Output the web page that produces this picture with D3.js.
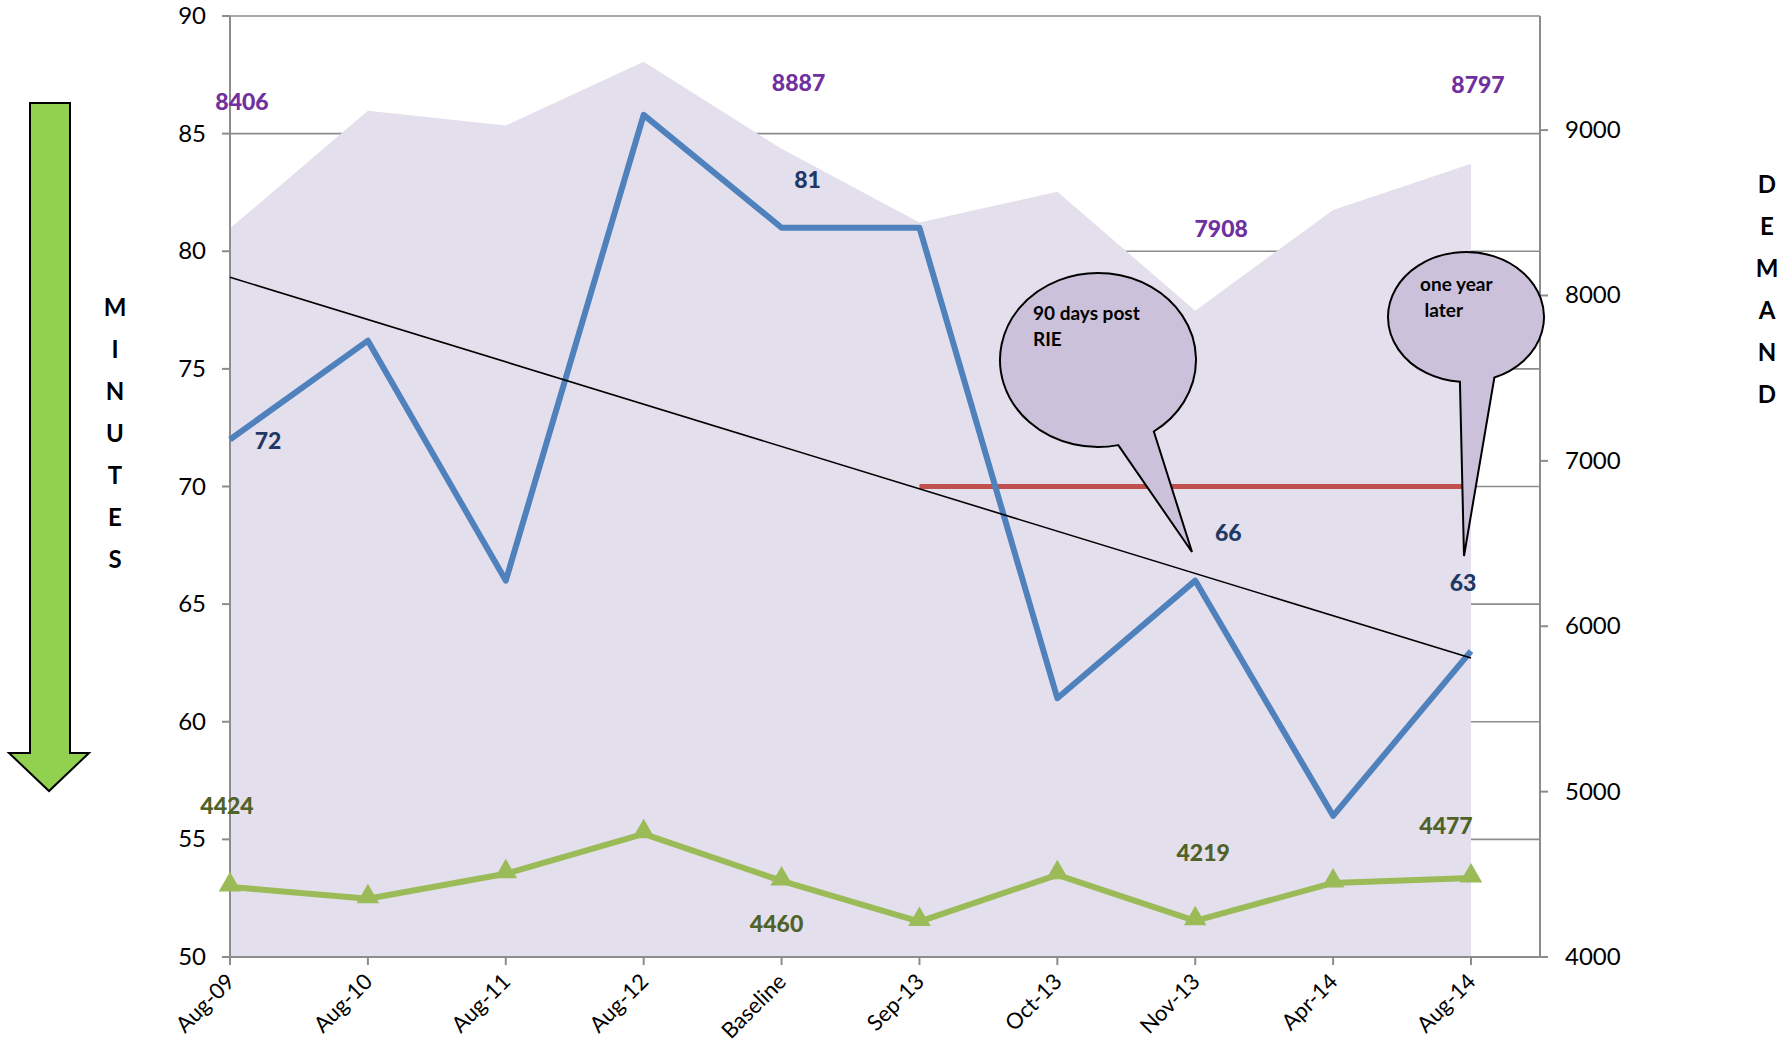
<!DOCTYPE html>
<html>
<head>
<meta charset="utf-8">
<script src="https://cdn.jsdelivr.net/npm/d3@7"></script>
<style>
  body { margin: 0; background: #fff; }
  text { font-family: Lato, "Open Sans", sans-serif; }
</style>
</head>
<body>
<svg id="chart" width="1789" height="1044"></svg>
<script>
// data
var categories = ["Aug-09", "Aug-10", "Aug-11", "Aug-12", "Baseline", "Sep-13", "Oct-13", "Nov-13", "Apr-14", "Aug-14"];
var minutes = [72, 76.2, 66, 85.8, 81, 81, 61, 66, 56, 63];
var demand = [8406, 9117, 9028, 9414, 8887, 8441, 8628, 7908, 8517, 8797];
var visits = [4424, 4352, 4503, 4745, 4460, 4214, 4497, 4219, 4448, 4477];
var target = 70, targetStart = "Sep-13";
var minuteTicks = [50, 55, 60, 65, 70, 75, 80, 85, 90];
var demandTicks = [4000, 5000, 6000, 7000, 8000, 9000];
var labelled = [0, 4, 7, 9];

var svg = d3.select("#chart");
var plotL = 230, plotR = 1540, lastX = 1471, plotT = 16, plotB = 957;

var x = d3.scalePoint().domain(categories).range([plotL, lastX]);
var yMin = d3.scaleLinear().domain([50, 90]).range([plotB, plotT]);
var yDem = d3.scaleLinear().domain([4000, 9690]).range([plotB, plotT]);

// gridlines
svg.append("g").selectAll("line")
    .data(minuteTicks.slice(1))
    .enter().append("line")
    .attr("x1", plotL).attr("x2", plotR)
    .attr("y1", d => yMin(d)).attr("y2", d => yMin(d))
    .attr("stroke", "#8c8c8c").attr("stroke-width", 1.6);

// demand area
var area = d3.area()
    .x((d, i) => x(categories[i]))
    .y0(plotB)
    .y1(d => yDem(d));
svg.append("path")
    .attr("d", area(demand))
    .attr("fill", "#e4dfec");

// axes
svg.append("line").attr("x1", plotL).attr("x2", plotL).attr("y1", plotT).attr("y2", plotB)
    .attr("stroke", "#8c8c8c").attr("stroke-width", 2);
svg.append("line").attr("x1", plotR).attr("x2", plotR).attr("y1", plotT).attr("y2", plotB)
    .attr("stroke", "#8c8c8c").attr("stroke-width", 2);
svg.append("line").attr("x1", plotL).attr("x2", plotR).attr("y1", plotB).attr("y2", plotB)
    .attr("stroke", "#8c8c8c").attr("stroke-width", 2);

var leftAxis = svg.append("g");
minuteTicks.forEach(function(t) {
    leftAxis.append("line").attr("x1", plotL - 8).attr("x2", plotL)
        .attr("y1", yMin(t)).attr("y2", yMin(t))
        .attr("stroke", "#8c8c8c").attr("stroke-width", 2);
    leftAxis.append("text").attr("x", plotL - 24).attr("y", yMin(t) + 8)
        .attr("text-anchor", "end").attr("font-size", 24).text(t);
});

var rightAxis = svg.append("g");
demandTicks.forEach(function(t) {
    rightAxis.append("line").attr("x1", plotR).attr("x2", plotR + 8)
        .attr("y1", yDem(t)).attr("y2", yDem(t))
        .attr("stroke", "#8c8c8c").attr("stroke-width", 2);
    rightAxis.append("text").attr("x", plotR + 25).attr("y", yDem(t) + 8)
        .attr("text-anchor", "start").attr("font-size", 24).text(t);
});

var xAxis = svg.append("g");
categories.forEach(function(c) {
    xAxis.append("line").attr("x1", x(c)).attr("x2", x(c))
        .attr("y1", plotB).attr("y2", plotB + 8)
        .attr("stroke", "#8c8c8c").attr("stroke-width", 2);
    xAxis.append("text")
        .attr("transform", "translate(" + (x(c) + 6) + "," + (plotB + 26) + ") rotate(-45)")
        .attr("text-anchor", "end").attr("font-size", 22).text(c);
});

// target line
svg.append("line")
    .attr("x1", x(targetStart)).attr("x2", lastX)
    .attr("y1", yMin(target)).attr("y2", yMin(target))
    .attr("stroke", "#c0504d").attr("stroke-width", 5);

// visits line with triangles
var line = d3.line().x((d, i) => x(categories[i]));
svg.append("path")
    .attr("d", line.y(d => yDem(d))(visits))
    .attr("fill", "none").attr("stroke", "#9bbb59").attr("stroke-width", 6)
    .attr("stroke-linejoin", "round");
svg.append("g").selectAll("path")
    .data(visits).enter().append("path")
    .attr("d", d3.symbol().type(d3.symbolTriangle).size(220))
    .attr("transform", (d, i) => "translate(" + x(categories[i]) + "," + (yDem(d) - 2) + ")")
    .attr("fill", "#9bbb59");

// minutes line
svg.append("path")
    .attr("d", line.y(d => yMin(d))(minutes))
    .attr("fill", "none").attr("stroke", "#4f81bd").attr("stroke-width", 6)
    .attr("stroke-linejoin", "round");

// linear trend of minutes
var n = minutes.length, mx = (n - 1) / 2, my = d3.mean(minutes);
var sxy = d3.sum(minutes, (d, i) => (i - mx) * (d - my));
var sxx = d3.sum(minutes, (d, i) => (i - mx) * (i - mx));
var slope = sxy / sxx, icpt = my - slope * mx;
svg.append("line")
    .attr("x1", x(categories[0])).attr("y1", yMin(icpt))
    .attr("x2", x(categories[n - 1])).attr("y2", yMin(icpt + slope * (n - 1)))
    .attr("stroke", "#000").attr("stroke-width", 1.6);

// data labels (offsets in px from the point)
var demandOff = [[12, -126], [0, 0], [0, 0], [0, 0], [17, -66], [0, 0], [0, 0], [26, -82], [0, 0], [7, -79]];
var minuteOff = [[38, 2], [0, 0], [0, 0], [0, 0], [26, -48], [0, 0], [0, 0], [33, -48], [0, 0], [-8, -68]];
var visitOff = [[-3, -81], [0, 0], [0, 0], [0, 0], [-5, 43], [0, 0], [0, 0], [8, -68], [0, 0], [-25, -52]];

function labels(values, scale, off, color) {
    svg.append("g").selectAll("text")
        .data(labelled).enter().append("text")
        .attr("x", i => x(categories[i]) + off[i][0])
        .attr("y", i => scale(values[i]) + off[i][1] + 8)
        .attr("text-anchor", "middle").attr("font-size", 23).attr("font-weight", 900)
        .attr("fill", color)
        .text(i => values[i]);
}
labels(demand, yDem, demandOff, "#7030a0");
labels(minutes, yMin, minuteOff, "#1f3864");
labels(visits, yDem, visitOff, "#4f6228");

// callouts
var callouts = [
    {lines: ["90 days post", "RIE"], cx: 1098, cy: 360, rx: 98, ry: 87, tip: [1192, 552], b1: [20, 84], b2: [57, 73], tx: 1033, ty: 320},
    {lines: ["one year", " later"], cx: 1466, cy: 317, rx: 78, ry: 65, tip: [1464, 556], b1: [-6, 64], b2: [30, 64], tx: 1420, ty: 291}
];
callouts.forEach(function(c) {
    var a1 = Math.atan2(c.b1[1] / c.ry, c.b1[0] / c.rx);
    var a2 = Math.atan2(c.b2[1] / c.ry, c.b2[0] / c.rx);
    var p1 = [c.cx + c.rx * Math.cos(a1), c.cy + c.ry * Math.sin(a1)];
    var p2 = [c.cx + c.rx * Math.cos(a2), c.cy + c.ry * Math.sin(a2)];
    var d = "M" + p2 + " A" + c.rx + "," + c.ry + " 0 1,0 " + p1 + " L" + c.tip + " Z";
    svg.append("path").attr("d", d)
        .attr("fill", "#ccc1da").attr("stroke", "#000").attr("stroke-width", 2);
    c.lines.forEach(function(l, k) {
        svg.append("text").attr("x", c.tx).attr("y", c.ty + k * 26)
            .attr("font-size", 19).attr("font-weight", "bold").attr("xml:space", "preserve")
            .style("white-space", "pre").text(l);
    });
});

// green down arrow
var arrow = [[30, 103], [70, 103], [70, 753], [89, 753], [49, 791], [9, 753], [30, 753]];
svg.append("path").attr("d", d3.line()(arrow) + "Z")
    .attr("fill", "#92d050").attr("stroke", "#000").attr("stroke-width", 2);

// side titles
"MINUTES".split("").forEach(function(ch, i) {
    svg.append("text").attr("x", 115).attr("y", 316 + i * 42)
        .attr("text-anchor", "middle").attr("font-size", 24).attr("font-weight", "bold").text(ch);
});
"DEMAND".split("").forEach(function(ch, i) {
    svg.append("text").attr("x", 1767).attr("y", 193 + i * 42)
        .attr("text-anchor", "middle").attr("font-size", 24).attr("font-weight", "bold").text(ch);
});
</script>
</body>
</html>
